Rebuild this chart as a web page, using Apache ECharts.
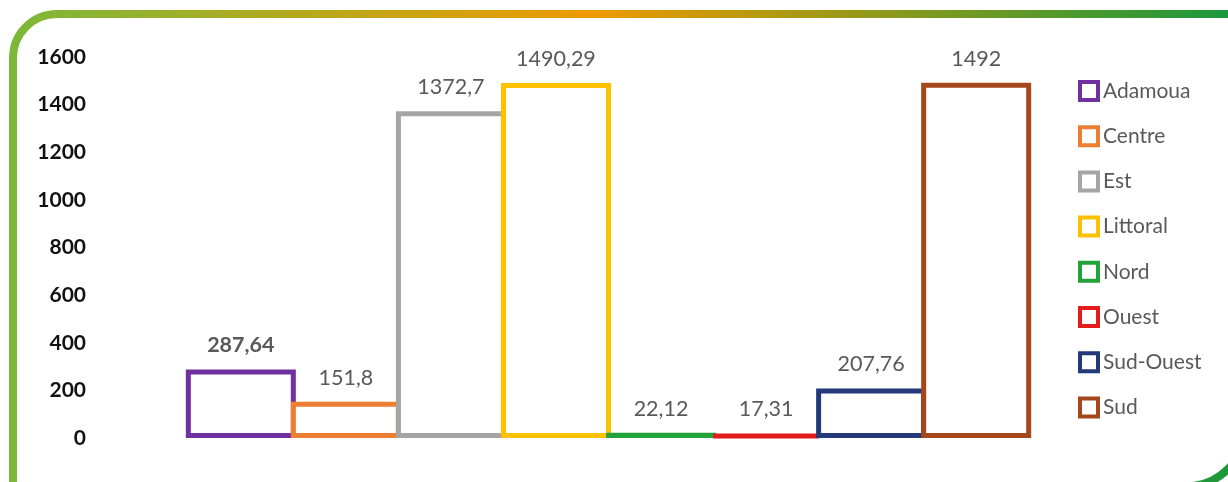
<!DOCTYPE html>
<html><head><meta charset="utf-8">
<script src="https://cdn.jsdelivr.net/npm/echarts@6/dist/echarts.min.js"></script>
<style>html,body{margin:0;padding:0;background:#fff}#c{width:1228px;height:482px}</style>
</head><body><div id="c"></div>
<script>
const regions = ['Adamoua','Centre','Est','Littoral','Nord','Ouest','Sud-Ouest','Sud'];
const values = [287.64, 151.8, 1372.7, 1490.29, 22.12, 17.31, 207.76, 1492];
const labels = ['287,64','151,8','1372,7','1490,29','22,12','17,31','207,76','1492'];
const colors = ['#7030a0','#ed7d31','#a5a5a5','#ffc000','#22a33a','#e31b1b','#23397a','#a4471c'];
const yTicks = [0,200,400,600,800,1000,1200,1400,1600];

const chart = echarts.init(document.getElementById('c'));
const series = regions.map((name, i) => ({
  name, type: 'bar', data: [values[i]],
  barWidth: 110, barGap: '-4.5%',
  itemStyle: { color: '#fff', borderColor: colors[i], borderWidth: 5 },
  label: { show: true, position: 'top', distance: 13, formatter: () => labels[i],
    color: '#595959', fontFamily: 'Lato', fontSize: 21.5, fontWeight: i === 0 ? 'bold' : 'normal' }
}));
chart.setOption({
  animation: false,
  graphic: [{
    type: 'rect', left: 9, top: 10, silent: true,
    shape: { x: 4, y: 4, width: 1233.5, height: 472.5, r: [44, 0, 61.5, 0] },
    style: { fill: 'none', lineWidth: 8,
      stroke: new echarts.graphic.LinearGradient(0, 0, 1, 0, [
        { offset: 0, color: '#7cb83a' }, { offset: 0.47, color: '#ee9a00' }, { offset: 1, color: '#14983e' }
      ]) }
  }],
  grid: { left: 100, right: 111, top: 57, bottom: 44 },
  legend: {
    orient: 'vertical', left: 1073, top: 75, itemWidth: 18, itemHeight: 18, itemGap: 23.2,
    icon: 'rect', itemStyle: { borderWidth: 4 },
    textStyle: { color: '#595959', fontFamily: 'Lato', fontSize: 21, lineHeight: 20 },
    data: regions
  },
  xAxis: { type: 'category', data: [''], axisLine: { show: false }, axisTick: { show: false }, axisLabel: { show: false } },
  yAxis: { type: 'value', min: yTicks[0], max: yTicks[yTicks.length - 1], interval: 200,
    splitLine: { show: false }, axisLine: { show: false }, axisTick: { show: false },
    axisLabel: { margin: 14, color: '#111', fontFamily: 'Lato', fontWeight: 'bold', fontSize: 21,
      formatter: v => String(v) } },
  series
});
</script></body></html>
